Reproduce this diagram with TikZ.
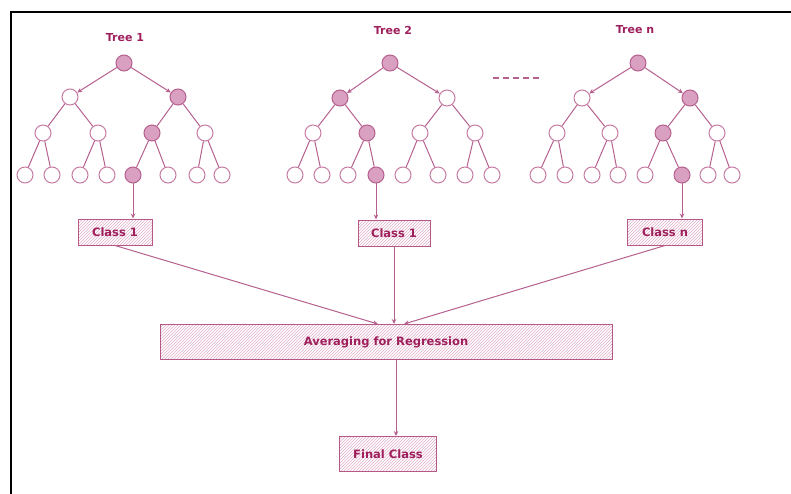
\documentclass[tikz,border=0pt]{standalone}
\usepackage{fontspec}
\setmainfont{DejaVu Sans}
\usetikzlibrary{arrows.meta,patterns}

\definecolor{edgecol}{HTML}{B5608E}
\definecolor{nodecol}{HTML}{C77BA3}
\definecolor{hitcol}{HTML}{D9A0C1}
\definecolor{textcol}{HTML}{9E1F5C}
\definecolor{hatchcol}{HTML}{E0AFC8}

\begin{document}
\begin{tikzpicture}[x=1pt, y=-1pt,
    treenode/.style = {circle, draw=nodecol, fill=white, minimum size=16pt, inner sep=0pt, line width=1pt},
    hitnode/.style = {treenode, fill=hitcol, draw=edgecol},
    classbox/.style = {draw=textcol!75, pattern=north east lines, pattern color=hatchcol, text=textcol,
                       font=\bfseries\fontsize{11.5}{13}\selectfont, minimum height=26pt, line width=1pt},
    treetitle/.style = {text=textcol, font=\bfseries\fontsize{11}{13}\selectfont},
    edge/.style = {draw=edgecol, line width=1pt},
    >={Stealth[length=5pt,width=4.5pt]}]
     \useasboundingbox (0,0) rectangle (791,494);
     \draw[black, line width=2pt] (791,12) -| (11,494);

     % tree 1
     \node[treetitle] (title1) at (125,38) {Tree 1};
     \node[hitnode] (a1) at (124,63) {};
     \node[treenode] (a2) at (70,97) {};
     \node[hitnode] (a3) at (178,97) {};
     \node[treenode] (a4) at (43,133) {};
     \node[treenode] (a5) at (98,133) {};
     \node[hitnode] (a6) at (152,133) {};
     \node[treenode] (a7) at (205,133) {};
     \node[treenode] (a8) at (25,175) {};
     \node[treenode] (a9) at (52,175) {};
     \node[treenode] (a10) at (80,175) {};
     \node[treenode] (a11) at (107,175) {};
     \node[hitnode] (a12) at (133,175) {};
     \node[treenode] (a13) at (168,175) {};
     \node[treenode] (a14) at (197,175) {};
     \node[treenode] (a15) at (222,175) {};

     \draw[edge, ->] (a1)--(a2);
     \draw[edge, ->] (a1)--(a3);
     \draw[edge] (a2)--(a4) (a2)--(a5) (a3)--(a6) (a3)--(a7);
     \draw[edge] (a4)--(a8) (a4)--(a9) (a5)--(a10) (a5)--(a11);
     \draw[edge] (a6)--(a12) (a6)--(a13) (a7)--(a14) (a7)--(a15);

     % tree 2
     \node[treetitle] (title2) at (393,30) {Tree 2};
     \node[hitnode] (b1) at (390,63) {};
     \node[hitnode] (b2) at (340,98) {};
     \node[treenode] (b3) at (447,98) {};
     \node[treenode] (b4) at (313,133) {};
     \node[hitnode] (b5) at (367,133) {};
     \node[treenode] (b6) at (420,133) {};
     \node[treenode] (b7) at (475,133) {};
     \node[treenode] (b8) at (295,175) {};
     \node[treenode] (b9) at (322,175) {};
     \node[treenode] (b10) at (348,175) {};
     \node[hitnode] (b11) at (376,175) {};
     \node[treenode] (b12) at (403,175) {};
     \node[treenode] (b13) at (438,175) {};
     \node[treenode] (b14) at (465,175) {};
     \node[treenode] (b15) at (492,175) {};

     \draw[edge, ->] (b1)--(b2);
     \draw[edge, ->] (b1)--(b3);
     \draw[edge] (b2)--(b4) (b2)--(b5) (b3)--(b6) (b3)--(b7);
     \draw[edge] (b4)--(b8) (b4)--(b9) (b5)--(b10) (b5)--(b11);
     \draw[edge] (b6)--(b12) (b6)--(b13) (b7)--(b14) (b7)--(b15);

     \draw[edge, dash pattern=on 6pt off 4pt, line width=1.3pt] (493,78) -- (541,78);

     % tree n
     \node[treetitle] (titlen) at (635,30) {Tree n};
     \node[hitnode] (c1) at (638,63) {};
     \node[treenode] (c2) at (582,98) {};
     \node[hitnode] (c3) at (690,98) {};
     \node[treenode] (c4) at (557,133) {};
     \node[treenode] (c5) at (610,133) {};
     \node[hitnode] (c6) at (663,133) {};
     \node[treenode] (c7) at (717,133) {};
     \node[treenode] (c8) at (538,175) {};
     \node[treenode] (c9) at (565,175) {};
     \node[treenode] (c10) at (592,175) {};
     \node[treenode] (c11) at (618,175) {};
     \node[treenode] (c12) at (645,175) {};
     \node[hitnode] (c13) at (682,175) {};
     \node[treenode] (c14) at (708,175) {};
     \node[treenode] (c15) at (732,175) {};

     \draw[edge, ->] (c1)--(c2);
     \draw[edge, ->] (c1)--(c3);
     \draw[edge] (c2)--(c4) (c2)--(c5) (c3)--(c6) (c3)--(c7);
     \draw[edge] (c4)--(c8) (c4)--(c9) (c5)--(c10) (c5)--(c11);
     \draw[edge] (c6)--(c12) (c6)--(c13) (c7)--(c14) (c7)--(c15);

     % results
     \node[classbox, minimum width=74pt] (k1) at (115,232) {Class 1};
     \node[classbox, minimum width=72pt] (k2) at (394,233) {Class 1};
     \node[classbox, minimum width=75pt] (kn) at (665,232) {Class n};
     \node[classbox, minimum width=452pt, minimum height=35pt] (avg) at (386,342) {Averaging for Regression};
     \node[classbox, minimum width=97pt, minimum height=35pt] (final) at (388,454) {Final Class};

     \draw[edge, ->] (a12) -- (a12 |- k1.north);
     \draw[edge, ->] (b11) -- (b11 |- k2.north);
     \draw[edge, ->] (c13) -- (c13 |- kn.north);
     \draw[edge, ->] (k1.south) -- ([xshift=-8pt]avg.north);
     \draw[edge, ->] (k2.south) -- (k2.south |- avg.north);
     \draw[edge, ->] (kn.south) -- ([xshift=18pt]avg.north);
     \draw[edge, ->] ([xshift=10pt]avg.south) -- ([xshift=10pt]avg.south |- final.north);
\end{tikzpicture}
\end{document}
